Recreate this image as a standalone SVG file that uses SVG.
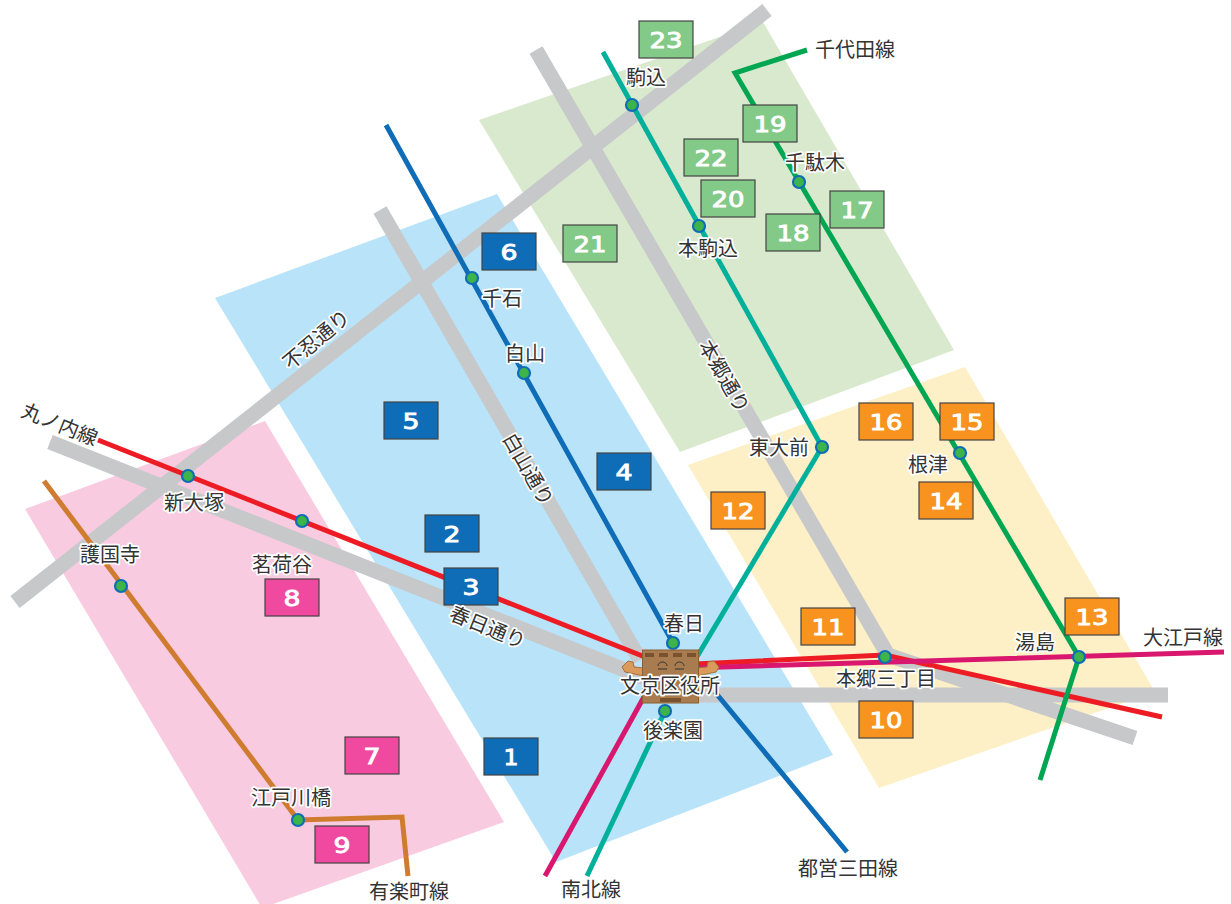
<svg xmlns="http://www.w3.org/2000/svg" width="1231" height="904" viewBox="0 0 1231 904">
<style>
.road{fill:none;stroke:#c7c8ca;stroke-width:15}
.ln{fill:none;stroke-width:5;stroke-linejoin:miter}
.st{fill:#3cb44a;stroke:#0f6cb6;stroke-width:2.2}
.t{font-family:"Noto Sans CJK JP","Noto Sans",sans-serif;font-size:20px;fill:#333;text-anchor:middle;stroke:#fff;stroke-width:3.5px;paint-order:stroke;stroke-linejoin:round}
.n{font-family:"DejaVu Sans",sans-serif;font-size:22px;fill:#fff;stroke:#fff;stroke-width:.9px;text-anchor:middle}
.bx{stroke:#444;stroke-width:1.2}
.g{fill:#83c988}.b{fill:#0f6cb6}.p{fill:#ef4a9f}.o{fill:#f7931e}
</style>
<g id="areas">
<polygon points="25,509 265,421 504,822 262,908" fill="#f8cbe0"/>
<polygon points="215,298 497,194 833,755 556,862" fill="#b8e3f9"/>
<polygon points="479,120 763,22 954,350 680,452" fill="#d9e9cd"/>
<polygon points="688,465 965,367 1155,692 879,788" fill="#fdefc6"/>
</g>
<g id="connectors">
<path class="road" d="M15,602 L767,10"/>
<path class="road" d="M380,210 L640,660"/>
<path class="road" d="M536,50 L888,655 L1135,738"/>
<path class="road" d="M50,442 L650,680 M690,695 L1168,695"/>
<path class="ln" stroke="#ed1c24" d="M98,440 L645,657 M695,664 L885,655 L1162,717"/>
<path class="ln" stroke="#d9176f" d="M545,876 L645,695 M690,668 L1224,652"/>
<path class="ln" stroke="#00b09b" d="M603,52 L822,447 L695,660 M665,711 L587,876"/>
<path class="ln" stroke="#0f6cb6" d="M386,125 L673,643 M715,692 L847,852"/>
<path class="ln" stroke="#00a651" d="M807,50 L735,73 L1079,657 L1040,780"/>
<path class="ln" stroke="#cf7c30" d="M44,481 L298,820 L402,817 L408,876"/>
</g>
<g id="stations">
<circle class="st" cx="632" cy="105" r="6"/><circle class="st" cx="699" cy="226" r="6"/><circle class="st" cx="799" cy="182" r="6"/><circle class="st" cx="472" cy="278" r="6"/><circle class="st" cx="524" cy="373" r="6"/><circle class="st" cx="822" cy="447" r="6"/><circle class="st" cx="960" cy="453" r="6"/><circle class="st" cx="188" cy="476" r="6"/><circle class="st" cx="302" cy="521" r="6"/><circle class="st" cx="121" cy="586" r="6"/><circle class="st" cx="298" cy="820" r="6"/><circle class="st" cx="673" cy="643" r="6"/><circle class="st" cx="665" cy="711" r="6"/><circle class="st" cx="885" cy="657" r="6"/><circle class="st" cx="1079" cy="657" r="6"/>
</g>
<g id="boxes">
<g id="n1"><rect class="bx b" x="484" y="738" width="54" height="37"/><text class="n" x="511" y="765" textLength="15" lengthAdjust="spacingAndGlyphs">1</text></g>
<g id="n2"><rect class="bx b" x="425" y="515" width="54" height="37"/><text class="n" x="452" y="542" textLength="17" lengthAdjust="spacingAndGlyphs">2</text></g>
<g id="n3"><rect class="bx b" x="444" y="568" width="54" height="37"/><text class="n" x="471" y="595" textLength="17" lengthAdjust="spacingAndGlyphs">3</text></g>
<g id="n4"><rect class="bx b" x="597" y="453" width="54" height="37"/><text class="n" x="624" y="480" textLength="17" lengthAdjust="spacingAndGlyphs">4</text></g>
<g id="n5"><rect class="bx b" x="384" y="402" width="54" height="37"/><text class="n" x="411" y="429" textLength="17" lengthAdjust="spacingAndGlyphs">5</text></g>
<g id="n6"><rect class="bx b" x="482" y="233" width="54" height="37"/><text class="n" x="509" y="260" textLength="17" lengthAdjust="spacingAndGlyphs">6</text></g>
<g id="n7"><rect class="bx p" x="345" y="737" width="54" height="37"/><text class="n" x="372" y="764" textLength="17" lengthAdjust="spacingAndGlyphs">7</text></g>
<g id="n8"><rect class="bx p" x="265" y="579" width="54" height="37"/><text class="n" x="292" y="606" textLength="17" lengthAdjust="spacingAndGlyphs">8</text></g>
<g id="n9"><rect class="bx p" x="315" y="826" width="54" height="37"/><text class="n" x="342" y="853" textLength="17" lengthAdjust="spacingAndGlyphs">9</text></g>
<g id="n10"><rect class="bx o" x="859" y="701" width="54" height="37"/><text class="n" x="886" y="728" textLength="33" lengthAdjust="spacingAndGlyphs">10</text></g>
<g id="n11"><rect class="bx o" x="801" y="608" width="54" height="37"/><text class="n" x="828" y="635" textLength="33" lengthAdjust="spacingAndGlyphs">11</text></g>
<g id="n12"><rect class="bx o" x="711" y="492" width="54" height="37"/><text class="n" x="738" y="519" textLength="33" lengthAdjust="spacingAndGlyphs">12</text></g>
<g id="n13"><rect class="bx o" x="1065" y="598" width="54" height="37"/><text class="n" x="1092" y="625" textLength="33" lengthAdjust="spacingAndGlyphs">13</text></g>
<g id="n14"><rect class="bx o" x="919" y="482" width="54" height="37"/><text class="n" x="946" y="509" textLength="33" lengthAdjust="spacingAndGlyphs">14</text></g>
<g id="n15"><rect class="bx o" x="940" y="403" width="54" height="37"/><text class="n" x="967" y="430" textLength="33" lengthAdjust="spacingAndGlyphs">15</text></g>
<g id="n16"><rect class="bx o" x="859" y="403" width="54" height="37"/><text class="n" x="886" y="430" textLength="33" lengthAdjust="spacingAndGlyphs">16</text></g>
<g id="n17"><rect class="bx g" x="830" y="191" width="54" height="37"/><text class="n" x="857" y="218" textLength="33" lengthAdjust="spacingAndGlyphs">17</text></g>
<g id="n18"><rect class="bx g" x="766" y="214" width="54" height="37"/><text class="n" x="793" y="241" textLength="33" lengthAdjust="spacingAndGlyphs">18</text></g>
<g id="n19"><rect class="bx g" x="743" y="105" width="54" height="37"/><text class="n" x="770" y="132" textLength="33" lengthAdjust="spacingAndGlyphs">19</text></g>
<g id="n20"><rect class="bx g" x="701" y="180" width="54" height="37"/><text class="n" x="728" y="207" textLength="33" lengthAdjust="spacingAndGlyphs">20</text></g>
<g id="n21"><rect class="bx g" x="563" y="225" width="54" height="37"/><text class="n" x="590" y="252" textLength="33" lengthAdjust="spacingAndGlyphs">21</text></g>
<g id="n22"><rect class="bx g" x="684" y="139" width="54" height="37"/><text class="n" x="711" y="166" textLength="33" lengthAdjust="spacingAndGlyphs">22</text></g>
<g id="n23"><rect class="bx g" x="639" y="21" width="54" height="37"/><text class="n" x="666" y="48" textLength="33" lengthAdjust="spacingAndGlyphs">23</text></g>
</g>
<g id="office">
<path d="M644,668 L634,667 L633,662 L628,661 L622,667 L625,672 L644,676Z" fill="#d99a5b" stroke="#a5713c"/>
<path d="M697,668 L707,667 L708,662 L714,661 L719,667 L716,672 L697,676Z" fill="#d99a5b" stroke="#a5713c"/>
<rect x="642.500" y="650" width="56" height="53" fill="#a87c4f" stroke="#8a5f33" stroke-width="1"/>
<g fill="#7b5230"><rect x="645" y="653" width="9" height="4"/><rect x="659" y="653" width="9" height="4"/><rect x="673" y="653" width="9" height="4"/><rect x="687" y="653" width="9" height="4"/><rect x="660" y="698" width="21" height="4"/></g>
<path d="M658,666 a4.500,4 0 0 1 9,0 M658,669 h9 M675,666 a4.500,4 0 0 1 9,0 M675,669 h9" fill="none" stroke="#333" stroke-width="1"/>
</g>
<g id="labels">
<text class="t" x="646" y="85">駒込</text>
<text class="t" x="708" y="256">本駒込</text>
<text class="t" x="815" y="170">千駄木</text>
<text class="t" x="502" y="306">千石</text>
<text class="t" x="525" y="361">白山</text>
<text class="t" x="779" y="455">東大前</text>
<text class="t" x="928" y="472">根津</text>
<text class="t" x="194" y="510">新大塚</text>
<text class="t" x="282" y="572">茗荷谷</text>
<text class="t" x="110" y="562">護国寺</text>
<text class="t" x="291" y="805">江戸川橋</text>
<text class="t" x="684" y="631">春日</text>
<text class="t" x="670" y="693">文京区役所</text>
<text class="t" x="673" y="738">後楽園</text>
<text class="t" x="886" y="686">本郷三丁目</text>
<text class="t" x="1035" y="650">湯島</text>
<text class="t" x="855" y="57">千代田線</text>
<text class="t" x="1183" y="645">大江戸線</text>
<text class="t" x="848" y="876">都営三田線</text>
<text class="t" x="591" y="897">南北線</text>
<text class="t" x="409" y="899">有楽町線</text>
<text class="t" transform="translate(57,431) rotate(22)">丸ノ内線</text>
<text class="t" transform="translate(321,345) rotate(-40)">不忍通り</text>
<text class="t" transform="translate(522,473) rotate(60)">白山通り</text>
<text class="t" transform="translate(718,380) rotate(60)">本郷通り</text>
<text class="t" transform="translate(485,634) rotate(22)">春日通り</text>
</g>
</svg>
